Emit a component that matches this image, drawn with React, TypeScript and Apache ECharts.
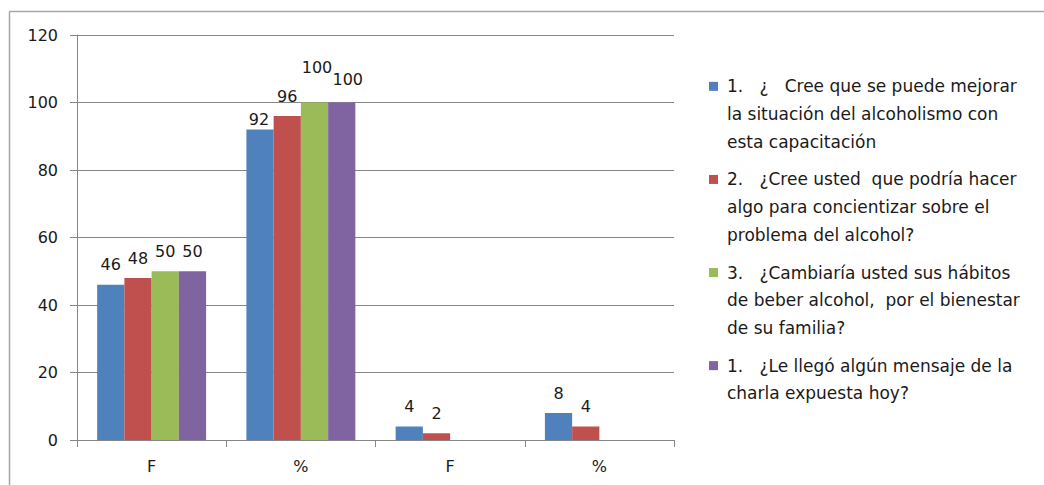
import React, { useEffect, useRef } from "react";
import * as echarts from "echarts";

const categories = ["F", "%", "F", "%"];
const seriesNames = [
  "1.   ¿   Cree que se puede mejorar la situación del alcoholismo con esta capacitación",
  "2.   ¿Cree usted  que podría hacer algo para concientizar sobre el problema del alcohol?",
  "3.   ¿Cambiaría usted sus hábitos de beber alcohol,  por el bienestar de su familia?",
  "1.   ¿Le llegó algún mensaje de la charla expuesta hoy?",
];
const legendLines = [
  ["1.   ¿   Cree que se puede mejorar", "la situación del alcoholismo con", "esta capacitación"],
  ["2.   ¿Cree usted  que podría hacer", "algo para concientizar sobre el", "problema del alcohol?"],
  ["3.   ¿Cambiaría usted sus hábitos", "de beber alcohol,  por el bienestar", "de su familia?"],
  ["1.   ¿Le llegó algún mensaje de la", "charla expuesta hoy?"],
];
const series1 = [46, 92, 4, 8];
const series2 = [48, 96, 2, 4];
const series3 = [50, 100, null, null];
const series4 = [50, 100, null, null];
const yTicks = [0, 20, 40, 60, 80, 100, 120];

const colors = ["#4F81BD", "#C0504D", "#9BBB59", "#8064A2"];
const FONT = "DejaVu Sans";
const TEXT = "#1a1a1a";

// label nudges (Excel's collision avoidance)
const labelOffsets: Record<string, [number, number]> = {
  "0-1": [-1, 10],
  "2-1": [2.5, -15],
  "3-1": [6, -3],
};

export default function App() {
  const ref = useRef<HTMLDivElement>(null);
  useEffect(() => {
    if (!ref.current) return;
    const chart = echarts.init(ref.current, null, { renderer: "svg" });
    const all = [series1, series2, series3, series4];
    const series = all.map((vals, si) => ({
      name: seriesNames[si],
      type: "bar",
      barGap: "0%",
      barCategoryGap: "27%",
      itemStyle: { color: colors[si] },
      label: {
        show: true,
        position: "top",
        distance: 12,
        color: TEXT,
        fontFamily: FONT,
        fontSize: 16,
      },
      data: vals.map((v, ci) => {
        const off = labelOffsets[`${si}-${ci}`];
        return off ? { value: v, label: { offset: off } } : { value: v };
      }),
    }));

    const graphics: any[] = [
      { type: "line", shape: { x1: 9.5, y1: 11.5, x2: 1044, y2: 11.5 }, style: { stroke: "#a6a6a6", lineWidth: 1.5 } },
      { type: "line", shape: { x1: 9.5, y1: 11.5, x2: 9.5, y2: 485 }, style: { stroke: "#a6a6a6", lineWidth: 1.5 } },
    ];
    let y = 72.5;
    const lh = 27.7;
    legendLines.forEach((lines, i) => {
      graphics.push({
        type: "rect",
        shape: { x: 709, y: y + lh / 2 - 4.5, width: 9, height: 9 },
        style: { fill: colors[i] },
      });
      graphics.push({
        type: "text",
        x: 727,
        y: y,
        style: {
          text: lines.join("\n"),
          fontFamily: FONT,
          fontSize: 17,
          lineHeight: lh,
          fill: TEXT,
          verticalAlign: "top",
        },
      });
      y += lines.length * lh + 10;
    });

    chart.setOption({
      animation: false,
      backgroundColor: "#ffffff",
      grid: { left: 77, top: 35, right: 370, bottom: 45, containLabel: false },
      xAxis: {
        type: "category",
        data: categories,
        axisLine: { lineStyle: { color: "#868686", width: 1 } },
        axisTick: { show: true, length: 7, lineStyle: { color: "#868686" } },
        axisLabel: { color: TEXT, fontFamily: FONT, fontSize: 16, margin: 18 },
      },
      yAxis: {
        type: "value",
        min: yTicks[0],
        max: yTicks[yTicks.length - 1],
        interval: 20,
        axisLine: { show: true, lineStyle: { color: "#868686", width: 1 } },
        axisTick: { show: true, length: 7, lineStyle: { color: "#868686" } },
        splitLine: { show: true, lineStyle: { color: "#868686", width: 1 } },
        axisLabel: { color: TEXT, fontFamily: FONT, fontSize: 16, margin: 19 },
      },
      graphic: graphics,
      series,
    });
    return () => chart.dispose();
  }, []);
  return (
    <div
      ref={ref}
      style={{ position: "fixed", left: 0, top: 0, width: 1044, height: 485, background: "#fff" }}
    />
  );
}
